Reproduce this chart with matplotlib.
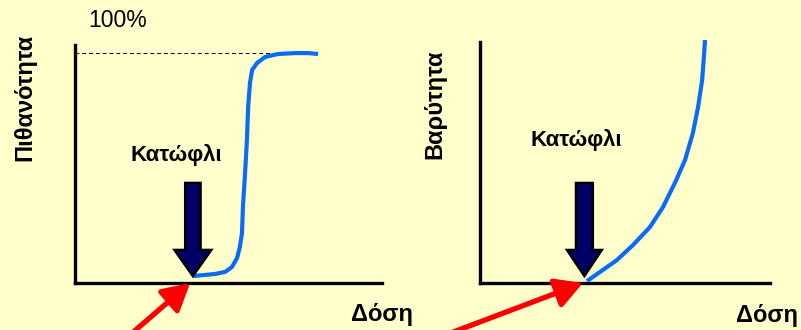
import matplotlib.pyplot as plt
from matplotlib.patches import FancyArrow

plt.rcParams['font.family'] = ['Liberation Sans', 'DejaVu Sans']

BG = '#FFFFCC'
BLUE = '#0A6CF5'
NAVY = '#000066'

# left panel: probability vs dose (sigmoid with threshold)
prob_dose = [3.84, 4.23, 4.56, 4.89, 5.11, 5.28, 5.37, 5.44, 5.47, 5.54, 5.60, 5.64,
             5.70, 5.77, 5.93, 6.19, 6.61, 7.17, 7.59, 7.92]
prob_val = [3.0, 3.5, 3.9, 4.8, 6.9, 10.8, 15.6, 21.6, 32.9, 47.6, 61.9, 76.2,
            86.6, 92.2, 95.2, 97.8, 99.1, 99.5, 99.5, 99.1]

# right panel: severity vs dose
sev_dose = [3.69, 4.14, 4.72, 5.28, 5.86, 6.31, 6.72, 7.07, 7.34, 7.52, 7.66, 7.72, 7.76]
sev_val = [0.8, 4.6, 9.5, 15.8, 23.2, 31.5, 41.5, 51.0, 62.2, 73.0, 84.2, 93.8, 100.8]

threshold_left = 3.84
threshold_right = 3.60

W, H = 801, 330
fig = plt.figure(figsize=(W / 100, H / 100), dpi=100, facecolor=BG)


def make_axes(left, right, top, bottom, ymax):
    ax = fig.add_axes([left / W, 1 - bottom / H, (right - left) / W, (bottom - top) / H])
    ax.set_facecolor(BG)
    ax.set_xlim(0, 10)
    ax.set_ylim(0, ymax)
    for s in ['top', 'right']:
        ax.spines[s].set_visible(False)
    for s in ['left', 'bottom']:
        ax.spines[s].set_linewidth(2.4)
        ax.spines[s].set_color('black')
    ax.set_xticks([])
    ax.set_yticks([])
    return ax


def threshold_marker(ax, x, tip_y, top_y, shaft_w, head_w, head_l):
    arr = FancyArrow(x, top_y, 0, -(top_y - tip_y), width=shaft_w, head_width=head_w,
                     head_length=head_l, length_includes_head=True,
                     facecolor=NAVY, edgecolor='black', linewidth=1.8, zorder=4, clip_on=False)
    ax.add_patch(arr)


def red_pointer(ax, x, tail_px):
    ax.annotate('', xy=(x, 0), xycoords='data', xytext=tail_px, textcoords='figure pixels',
                arrowprops=dict(arrowstyle='-|>,head_length=0.9,head_width=0.5', lw=3.8,
                                color='red', mutation_scale=18, shrinkA=0, shrinkB=0),
                annotation_clip=False, zorder=5)


# ---- left panel
ax1 = make_axes(75, 382, 45, 283, 103)
ax1.plot([0, 7.92], [99.7, 99.7], color='black', lw=0.7, ls=(0, (4, 3)))
ax1.plot(prob_dose, prob_val, color=BLUE, lw=3.0, solid_capstyle='butt',
         solid_joinstyle='round', zorder=3)
threshold_marker(ax1, threshold_left, 3.0, 43.3, 0.50, 1.2, 11.3)
red_pointer(ax1, 3.75, (131, -4))
ax1.text(0.42, 113.8, '100%', fontsize=16.5, ha='left', va='center', clip_on=False)
ax1.text(3.29, 55.4, 'Κατώφλι', fontsize=16, fontweight='bold', ha='center', va='center')
ax1.text(-1.62, 80.5, 'Πιθανότητα', fontsize=17, fontweight='bold', rotation=90,
         ha='center', va='center', clip_on=False)
ax1.text(8.99, -13.8, 'Δόση', fontsize=17, fontweight='bold', ha='left', va='center', clip_on=False)

# ---- right panel
ax2 = make_axes(480, 770, 42, 283, 100)
ax2.plot(sev_dose, sev_val, color=BLUE, lw=3.0, solid_capstyle='butt',
         solid_joinstyle='round', zorder=3, clip_on=False)
threshold_marker(ax2, threshold_right, 2.9, 41.5, 0.58, 1.2, 10.8)
red_pointer(ax2, 3.55, (448, -4))
ax2.text(3.31, 59.3, 'Κατώφλι', fontsize=16, fontweight='bold', ha='center', va='center')
ax2.text(-1.55, 74.3, 'Βαρύτητα', fontsize=17, fontweight='bold', rotation=90,
         ha='center', va='center', clip_on=False)
ax2.text(8.83, -13.3, 'Δόση', fontsize=17, fontweight='bold', ha='left', va='center', clip_on=False)

fig.savefig('out.png', dpi=100, facecolor=BG)
